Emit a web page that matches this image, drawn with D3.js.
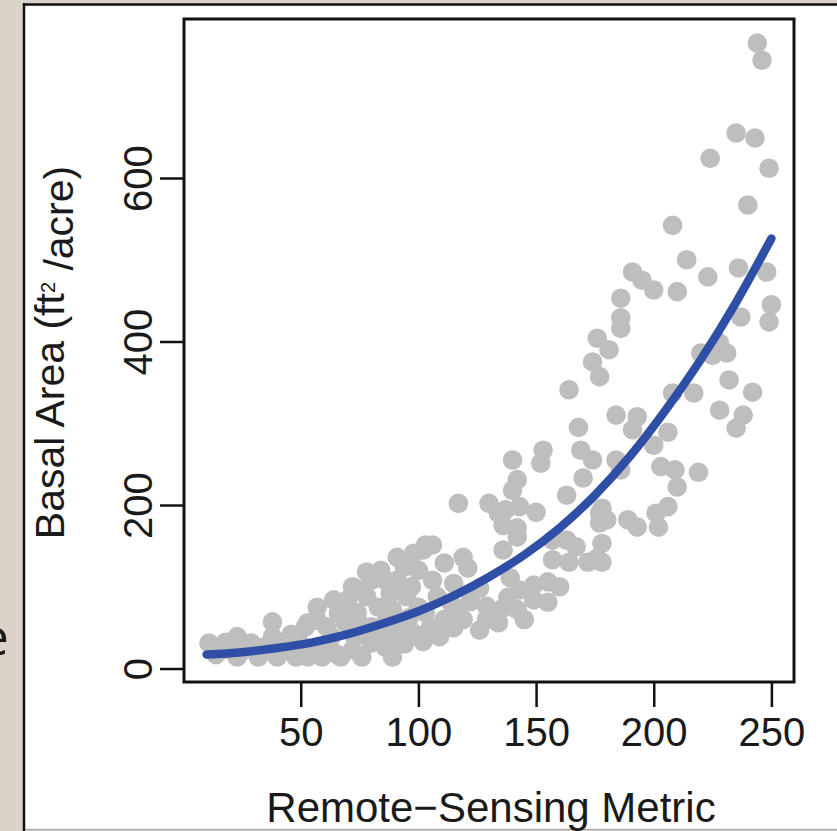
<!DOCTYPE html>
<html>
<head>
<meta charset="utf-8">
<script src="https://cdn.jsdelivr.net/npm/d3@7"></script>
<style>
  html, body { margin: 0; padding: 0; background: #dad3c9; }
  svg { display: block; }
  text { font-family: "Liberation Sans", Arial, Helvetica, sans-serif; fill: #1a1a1a; }
</style>
</head>
<body>
<svg id="chart" width="837" height="831"></svg>
<script>
// scatter points [metric, basal area]
const points = [
    [244,765],[246,744],[235,655],[243,649],[224,624],[249,612],[240,567],[208,542],
    [214,500],[223,479],[236,490],[248,485],[191,485],[195,475],[200,463],[210,461],
    [186,453],[186,429],[186,416],[176,404],[181,390],[174,375],[177,357],[164,341],
    [250,445],[249,424],[237,430],[232,353],[242,338],[228,398],[231,386],[225,383],
    [220,386],[217,337],[208,337],
    [228,316],[238,310],[235,294],[184,310],[193,308],[191,292],[206,289],[200,273],
    [184,255],[186,243],[203,247],[209,243],[210,222],[219,240],[178,196],[180,182],
    [189,182],[193,173],[201,190],[206,198],[202,173],[178,153],[178,130],
    [168,295],[169,267],[174,255],[153,267],[152,251],[140,255],[170,233],[163,212],
    [142,231],[140,218],[117,202],[130,202],[134,190],[137,194],[143,198],[150,191],
    [136,175],[142,172],[142,161],[177,190],[177,178],[157,157],[163,157],[167,149],
    [157,133],[164,130],[172,130],[176,135],[136,145],[119,136],[106,151],[102,145],
    [111,129],[121,123],[106,108],[115,104],[126,98],[139,111],[143,96],[149,102],
    [155,106],[160,100],[138,87],[135,72],[142,72],[149,84],[155,81],[129,60],
    [126,47],[134,56],[145,60],[114,80],[111,60],[115,50],[105,50],[102,33],
    [109,39],[119,60],[117,72],
    [11,31],[14,17],[18,32],[23,39],[29,31],[32,14],[38,57],[38,39],[42,31],[40,14],
    [23,14],[26,23],[49,35],[52,51],[55,23],[57,75],[57,59],[59,14],[63,39],[66,68],
    [70,84],[72,100],[69,56],[72,23],[74,68],[78,118],[80,108],[84,120],[86,108],
    [78,88],[83,75],[86,56],[89,72],[91,136],[94,124],[98,141],[103,151],[100,120],
    [91,108],[95,88],[100,75],[93,51],[98,43],[103,68],[106,47],[73,39],[77,47],
    [80,31],[69,80],[61,51],[86,26],[89,14],[80,51],[53,56],[17,23],[43,23],[48,14],
    [53,14],[67,14],[76,14],
    [20,26],[34,26],[46,42],[50,22],[62,28],[65,18],[75,55],[82,40],[88,36],[94,30],
    [64,84],[76,96],[88,92],[97,100],[108,88],[122,82],[129,76],[96,62]
];

// fitted curve
const fitX = [10, 25, 40, 55, 70, 85, 100, 115, 130, 145, 160, 175, 190, 205, 220, 235, 250];
const fitY = [17, 20, 25, 32, 42, 55, 70, 89, 112, 139, 172, 212, 260, 316, 378, 448, 526];

const xTicks = [50, 100, 150, 200, 250];
const yTicks = [0, 200, 400, 600];

const xTitle = 'Remote\u2212Sensing Metric';

const svg = d3.select('#chart');

// white panel with black frame on top/left
svg.append('rect').attr('x', 24).attr('y', 4).attr('width', 813).attr('height', 825).attr('fill', '#fff');
svg.append('line').attr('x1', 24).attr('x2', 24).attr('y1', 3).attr('y2', 831)
    .attr('stroke', '#111').attr('stroke-width', 2.5);
svg.append('line').attr('x1', 23).attr('x2', 837).attr('y1', 4.5).attr('y2', 4.5)
    .attr('stroke', '#111').attr('stroke-width', 2.5);
svg.append('line').attr('x1', 25).attr('x2', 837).attr('y1', 829.5).attr('y2', 829.5)
    .attr('stroke', '#aaa').attr('stroke-width', 1.5);

// stray letter from neighbouring slide text
svg.append('text').attr('x', 9).attr('y', 655).attr('text-anchor', 'end')
    .style('font-family', '"Open Sans", "Noto Sans", sans-serif')
    .style('font-size', '52px').text('e');

const pL = 184, pR = 794, pT = 19, pB = 682;

const x = d3.scaleLinear().domain([0.4, 259.6]).range([pL, pR]);
const y = d3.scaleLinear().domain([-16.5, 794.5]).range([pB, pT]);

const plot = svg.append('g');
plot.append('defs').append('clipPath').attr('id', 'clip')
    .append('rect').attr('x', pL).attr('y', pT).attr('width', pR - pL).attr('height', pB - pT);

const inner = plot.append('g').attr('clip-path', 'url(#clip)');

inner.append('g')
    .selectAll('circle')
    .data(points)
    .join('circle')
    .attr('cx', d => x(d[0]))
    .attr('cy', d => y(d[1]))
    .attr('r', 9.8)
    .attr('fill', '#bebebe');

const line = d3.line()
    .x((d, i) => x(fitX[i]))
    .y((d, i) => y(fitY[i]))
    .curve(d3.curveMonotoneX);

inner.append('path')
    .datum(fitY)
    .attr('d', line)
    .attr('fill', 'none')
    .attr('stroke', '#2f4ea6')
    .attr('stroke-width', 8.5)
    .attr('stroke-linecap', 'round');

// axes
const xAxis = plot.append('g')
    .attr('transform', `translate(0,${pB})`)
    .call(d3.axisBottom(x).tickValues(xTicks).tickSize(25).tickPadding(11));
const yAxis = plot.append('g')
    .attr('transform', `translate(${pL},0)`)
    .call(d3.axisLeft(y).tickValues(yTicks).tickSize(24));

[xAxis, yAxis].forEach(a => {
    a.attr('font-family', null).attr('font-size', null);
    a.select('.domain').remove();
    a.selectAll('.tick line').attr('stroke', '#111').attr('stroke-width', 2.5);
    a.selectAll('.tick text').style('font-size', '40px').attr('fill', '#1a1a1a');
});

yAxis.selectAll('.tick text')
    .attr('x', null).attr('dy', null)
    .attr('text-anchor', 'middle')
    .attr('transform', 'translate(-32,0) rotate(-90)');

// frame
plot.append('rect')
    .attr('x', pL).attr('y', pT)
    .attr('width', pR - pL).attr('height', pB - pT)
    .attr('fill', 'none').attr('stroke', '#111').attr('stroke-width', 3);

// titles
svg.append('text')
    .attr('x', (pL + pR) / 2 + 2).attr('y', 822)
    .attr('text-anchor', 'middle')
    .style('font-size', '42px')
    .text(xTitle);

const yt = svg.append('text')
    .attr('transform', `translate(64,${(pT + pB) / 2 + 2}) rotate(-90)`)
    .attr('text-anchor', 'middle')
    .style('font-size', '41px');
yt.append('tspan').text('Basal Area (ft');
yt.append('tspan').attr('dy', '-0.45em').style('font-size', '20px').text('2');
yt.append('tspan').attr('dy', '0.45em').text(' /acre)');
</script>
</body>
</html>
